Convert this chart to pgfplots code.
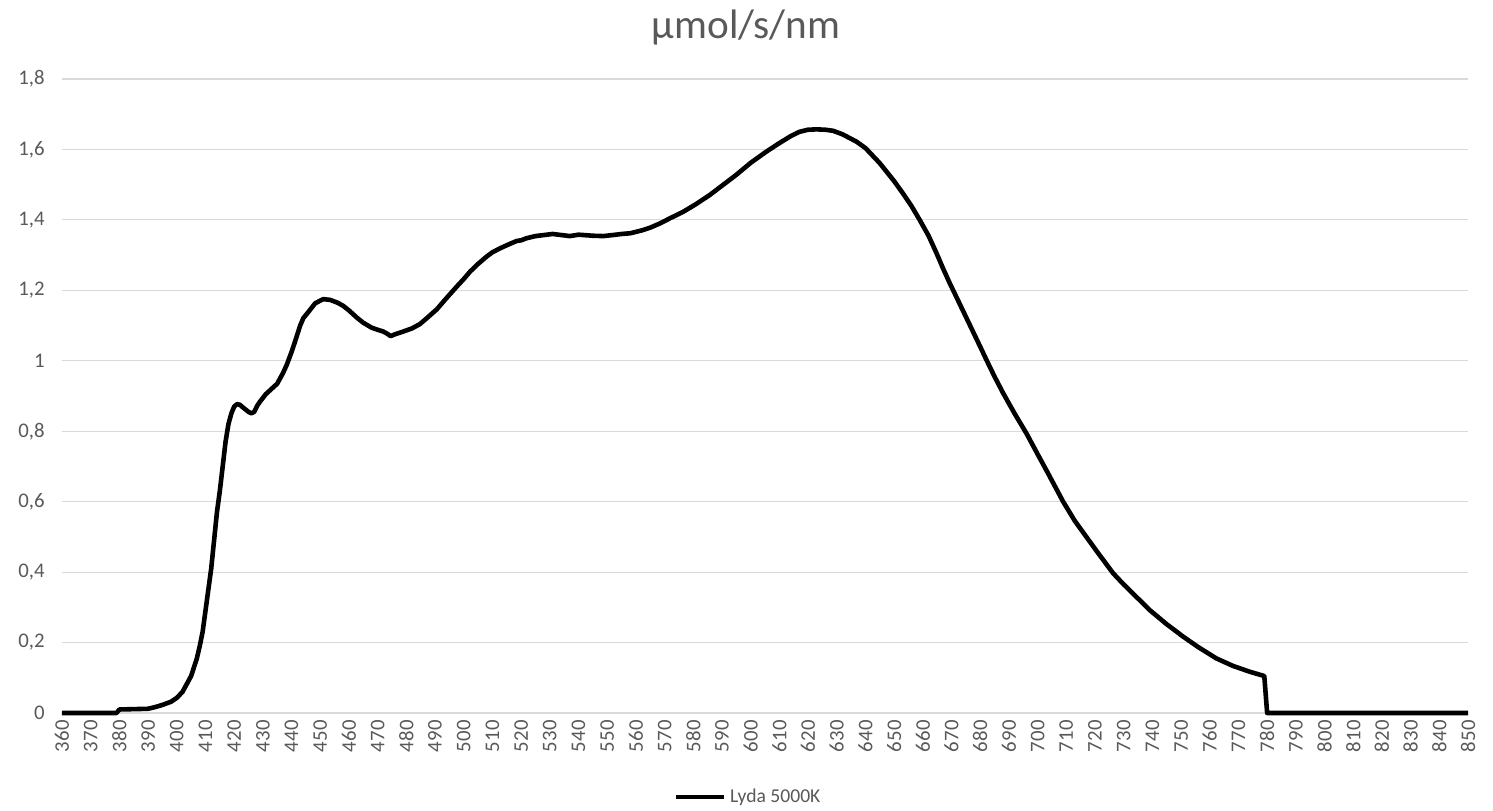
\documentclass[border=0pt]{standalone}
\usepackage{fontspec}
\setmainfont{Carlito}
\usepackage{pgfplots}
\pgfplotsset{compat=1.18}
\definecolor{txtgray}{HTML}{595959}
\definecolor{gridgray}{HTML}{D9D9D9}

\begin{document}
\begin{tikzpicture}
\begin{axis}[
    scale only axis,
    width=703pt,
    height=317pt,
    xmin=360, xmax=850,
    ymin=0, ymax=1.8,
    xtick={360,370,...,850},
    ytick={0,0.2,...,1.8},
    axis line style={draw=none},
    major tick length=0pt,
    ymajorgrids,
    grid style={gridgray, line width=0.6pt},
    tick label style={font=\fontsize{10.4}{12}\selectfont, text=txtgray, inner sep=0pt},
    xticklabel style={rotate=90, anchor=east, xshift=-3.5pt},
    yticklabel style={anchor=east, xshift=-8.5pt},
    /pgf/number format/assume math mode=true,
    /pgf/number format/use comma,
    /pgf/number format/1000 sep={},
    title={µmol/s/nm},
    title style={at={(0.5,1)}, anchor=center, yshift=19.5pt, xshift=-9.5pt, inner sep=0pt,
        font=\fontsize{20.6}{24}\selectfont, text=txtgray},
    legend style={at={(0.5,0)}, anchor=center, yshift=-42pt, xshift=-8pt, draw=none,
        inner sep=0pt, font=\fontsize{9.8}{11}\selectfont, text=txtgray,
        /tikz/every even column/.append style={column sep=0pt}},
    legend image code/.code={\draw[line width=2.3pt, black] (0pt,0pt) -- (24pt,0pt);},
    clip=false,
]

\addplot[black, line width=2.3pt, line join=round] coordinates {
(360,0) (379,0) (380,0.01) (390,0.012) (393,0.018) (395,0.023) (398,0.032)
(400,0.043) (402,0.06) (403,0.075) (405,0.105) (407,0.155) (408,0.19) (409,0.23)
(410,0.29) (411,0.35) (412,0.41) (413,0.49) (414,0.57) (415,0.63) (416,0.70)
(417,0.77) (418,0.82) (419,0.85) (420,0.87) (421,0.877) (422,0.875) (423,0.868)
(425,0.855) (426,0.851) (427,0.855) (428,0.872) (429,0.884) (431,0.905) (433,0.92)
(435,0.935) (437,0.965) (438.3,0.988) (440,1.025) (441.2,1.054) (443,1.10)
(444.1,1.121) (446,1.14) (448.2,1.163) (451,1.175) (453.4,1.173) (456,1.165)
(458,1.156) (460,1.143) (462.7,1.123) (465,1.108) (467.9,1.094) (470,1.088)
(472,1.083) (473.5,1.076) (474.5,1.070) (476,1.075) (478.9,1.083) (482,1.092)
(484.7,1.104) (487,1.12) (490.6,1.146) (494,1.178) (497.5,1.210) (500,1.232)
(502.2,1.253) (505,1.275) (508,1.296) (510,1.308) (512.6,1.319) (515,1.328)
(518.4,1.340) (520,1.342) (521.9,1.348) (525,1.354) (528,1.357) (531,1.360)
(534,1.357) (537,1.354) (540,1.358) (545,1.355) (548.6,1.354) (552,1.357)
(555,1.360) (558,1.362) (562,1.370) (565,1.378) (568.4,1.390) (572,1.405)
(576.5,1.423) (581,1.445) (585.8,1.471) (590,1.497) (595,1.528) (600,1.562)
(605.5,1.594) (610,1.618) (614,1.638) (617,1.650) (620,1.656) (623,1.657)
(626,1.656) (628.7,1.653) (632,1.643) (636.9,1.622) (640,1.604) (645,1.561)
(650,1.51) (653,1.476) (656,1.44) (658.9,1.400) (662,1.355) (664.8,1.305)
(667,1.263) (669.4,1.220) (672,1.176) (675,1.125) (677,1.091) (680,1.040)
(682.2,1.002) (685,0.955)
(688,0.908) (692,0.85) (696.1,0.794) (700,0.735) (704,0.675) (708.9,0.600)
(713,0.545) (717,0.50) (721,0.455) (726.3,0.397) (730,0.365) (735,0.325)
(739.1,0.292) (745,0.252) (750.7,0.217) (756,0.187) (762.3,0.155) (768,0.134)
(774,0.117) (779,0.105) (780,0) (850,0)
};
\addlegendentry{Lyda 5000K}

\end{axis}
\path[use as bounding box] ([xshift=-31pt,yshift=-48.5pt]current axis.south west)
    rectangle ([xshift=12.5pt,yshift=39.5pt]current axis.north east);
\end{tikzpicture}
\end{document}
